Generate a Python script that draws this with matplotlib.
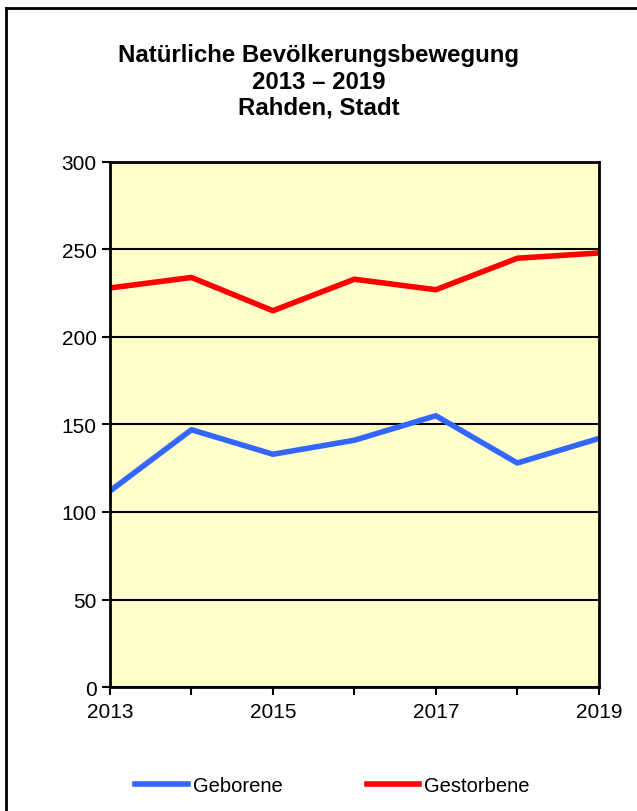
import matplotlib
matplotlib.use("Agg")
import matplotlib.pyplot as plt
from matplotlib.lines import Line2D

plt.rcParams["font.family"] = ["Liberation Sans", "DejaVu Sans"]

years = [2013, 2014, 2015, 2016, 2017, 2018, 2019]
geborene = [112, 147, 133, 141, 155, 128, 142]
gestorbene = [228, 234, 215, 233, 227, 245, 248]
year_labels = ["2013", "", "2015", "", "2017", "", "2019"]

fig = plt.figure(figsize=(6.37, 8.12), dpi=100)
# Rahmen nur oben und links sichtbar (Rest abgeschnitten)
fig.lines.append(Line2D([0.0094, 1.0], [0.989, 0.989], transform=fig.transFigure,
                        color="black", linewidth=2))
fig.lines.append(Line2D([0.0094, 0.0094], [0.0, 0.989], transform=fig.transFigure,
                        color="black", linewidth=2))

ax = fig.add_axes([0.1727, 0.1527, 0.7673, 0.6466])
ax.set_facecolor("#FFFFCC")

ax.plot(years, geborene, color="#3366FF", linewidth=4, label="Geborene")
ax.plot(years, gestorbene, color="#FF0000", linewidth=4, label="Gestorbene")

ax.set_xlim(2013, 2019)
ax.set_ylim(0, 300)
ax.set_yticks(range(0, 301, 50))
ax.set_xticks(years)
ax.set_xticklabels(year_labels)
ax.yaxis.grid(True, color="black", linewidth=1.5)
ax.set_axisbelow(True)
ax.tick_params(axis="both", labelsize=15, length=6, width=1.5, direction="out")
ax.tick_params(axis="x", pad=5)
for s in ax.spines.values():
    s.set_linewidth(2)
    s.set_color("black")

fig.text(0.5, 0.899, "Natürliche Bevölkerungsbewegung\n2013 – 2019\nRahden, Stadt",
         ha="center", va="center", fontsize=17.3, fontweight="bold", linespacing=1.18)

fig.legend(loc="center", bbox_to_anchor=(0.522, 0.031), ncol=2, frameon=False,
           fontsize=14.5, handlelength=2.6, handletextpad=0.25, columnspacing=4.2)

fig.savefig("out.png", dpi=100)
